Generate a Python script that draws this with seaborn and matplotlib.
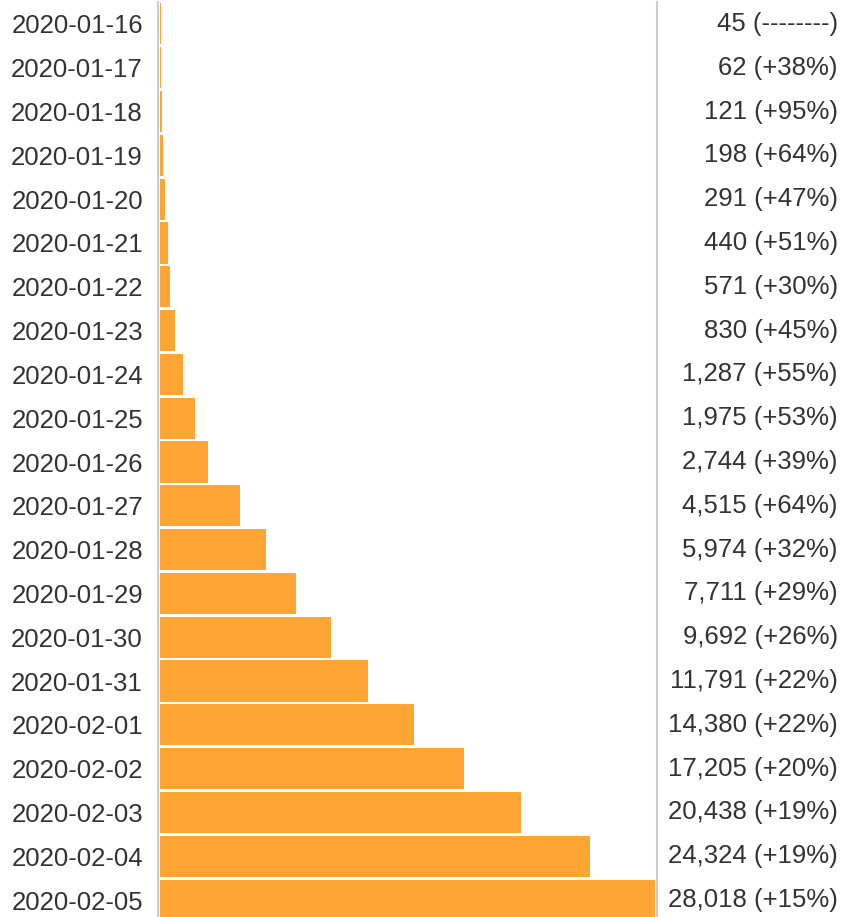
import matplotlib
matplotlib.use("Agg")
import matplotlib.pyplot as plt
import matplotlib.transforms as mtransforms
import seaborn as sns
import pandas as pd

dates = ["2020-01-16", "2020-01-17", "2020-01-18", "2020-01-19", "2020-01-20",
         "2020-01-21", "2020-01-22", "2020-01-23", "2020-01-24", "2020-01-25",
         "2020-01-26", "2020-01-27", "2020-01-28", "2020-01-29", "2020-01-30",
         "2020-01-31", "2020-02-01", "2020-02-02", "2020-02-03", "2020-02-04",
         "2020-02-05"]
cases = [45, 62, 121, 198, 291, 440, 571, 830, 1287, 1975, 2744, 4515, 5974,
         7711, 9692, 11791, 14380, 17205, 20438, 24324, 28018]
growth = ["--------", "+38%", "+95%", "+64%", "+47%", "+51%", "+30%", "+45%",
          "+55%", "+53%", "+39%", "+64%", "+32%", "+29%", "+26%", "+22%",
          "+22%", "+20%", "+19%", "+19%", "+15%"]

sns.set_style("white")
plt.rcParams['font.family'] = ['Liberation Sans', 'DejaVu Sans']

W, H = 843, 917
fig = plt.figure(figsize=(W / 100, H / 100), dpi=100)
ax = fig.add_axes([157.5 / W, 0, 499.5 / W, (H - 2) / H])

df = pd.DataFrame({"date": dates, "cases": cases})
sns.barplot(data=df, x="cases", y="date", orient="h", color="#ffa533",
            saturation=1, width=0.94, linewidth=0, ax=ax)

# pixel-based limits
px = 28018 / 495
ax.set_xlim(-2.5 * px, 28018 + 2 * px)
ax.set_ylim(20.5 - 5 / 43.8, -0.5)

for s in ["top", "bottom"]:
    ax.spines[s].set_visible(False)
for s in ["left", "right"]:
    ax.spines[s].set_color("#cccccc")
    ax.spines[s].set_linewidth(1.5)

ax.set_xticks([])
ax.set_xlabel("")
ax.set_ylabel("")
ax.tick_params(axis="y", length=0, pad=10.5, labelsize=18.5, labelcolor="#333333")

trans = mtransforms.blended_transform_factory(fig.transFigure, ax.transData)
for i, (c, g) in enumerate(zip(cases, growth)):
    ax.text(838 / W, i, f"{c:,} ({g})", transform=trans, ha="right", va="center",
            fontsize=18.5, color="#333333", clip_on=False)

fig.savefig("out.png", dpi=100)
